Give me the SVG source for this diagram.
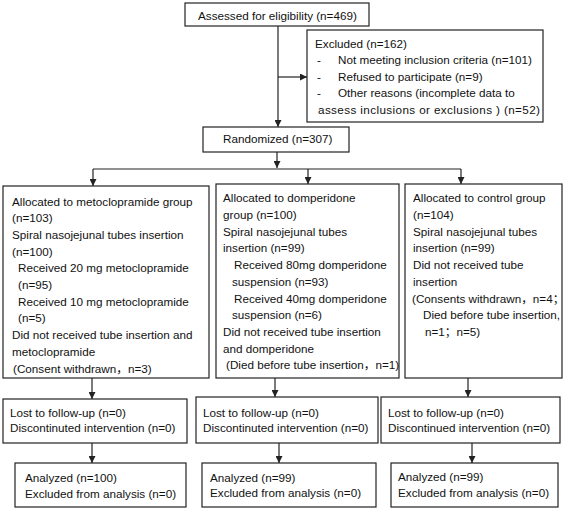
<svg xmlns="http://www.w3.org/2000/svg" width="567" height="510" viewBox="0 0 567 510">
<style>
.box{fill:#fff;stroke:#222;stroke-width:1.2}
text{font-family:"Liberation Sans","Noto Sans CJK SC",sans-serif;font-size:11.7px;fill:#111}
.ln{stroke:#222;stroke-width:1.2;fill:none}
</style>
<defs>
<marker id="ah" viewBox="0 0 8 8" refX="8" refY="4" markerWidth="7" markerHeight="7" orient="auto" markerUnits="userSpaceOnUse"><path d="M0,0 L8,4 L0,8 z" fill="#222"/></marker>
</defs>
<rect width="567" height="510" fill="#fff"/>
<g id="connectors">
<path class="ln" d="M278,26 V127" marker-end="url(#ah)"/>
<path class="ln" d="M278,77 H307" marker-end="url(#ah)"/>
<path class="ln" d="M277,152 V168" marker-end="url(#ah)"/>
<path class="ln" d="M93,169 H461"/>
<path class="ln" d="M93,169 V186" marker-end="url(#ah)"/>
<path class="ln" d="M308,169 V184" marker-end="url(#ah)"/>
<path class="ln" d="M461,169 V184" marker-end="url(#ah)"/>
<path class="ln" d="M92,378 V399" marker-end="url(#ah)"/>
<path class="ln" d="M92,443 V463" marker-end="url(#ah)"/>
<path class="ln" d="M275,378 V397" marker-end="url(#ah)"/>
<path class="ln" d="M279,443 V463" marker-end="url(#ah)"/>
<path class="ln" d="M468,378 V397" marker-end="url(#ah)"/>
<path class="ln" d="M472,443 V463" marker-end="url(#ah)"/>
</g>
<g id="assessed">
<rect class="box" x="185" y="3" width="184" height="23"/>
<text x="198" y="19.5">Assessed for eligibility (n=469)</text>
</g>
<g id="excluded">
<rect class="box" x="307" y="30" width="236" height="92"/>
<text x="315" y="47.5">Excluded (n=162)</text>
<text x="317" y="64">-</text><text x="338" y="64">Not meeting inclusion criteria (n=101)</text>
<text x="317" y="80.5">-</text><text x="338" y="80.5">Refused to participate (n=9)</text>
<text x="317" y="97">-</text><text x="338" y="97">Other reasons (incomplete data to</text>
<text x="318" y="114" textLength="222" lengthAdjust="spacing">assess inclusions or exclusions ) (n=52)</text>
</g>
<g id="randomized">
<rect class="box" x="203" y="127" width="146" height="25"/>
<text x="223" y="142.5">Randomized (n=307)</text>
</g>
<g id="alloc-meto">
<rect class="box" x="3" y="186" width="206" height="192"/>
<text x="12" y="205.5">Allocated to metoclopramide group</text>
<text x="12" y="222.2">(n=103)</text>
<text x="12" y="238.9">Spiral nasojejunal tubes insertion</text>
<text x="12" y="255.6">(n=100)</text>
<text x="18" y="272.3">Received 20 mg metoclopramide</text>
<text x="18" y="289">(n=95)</text>
<text x="18" y="305.7">Received 10 mg metoclopramide</text>
<text x="18" y="322.4">(n=5)</text>
<text x="12" y="339.1">Did not received tube insertion and</text>
<text x="12" y="355.8">metoclopramide</text>
<text x="13" y="372.5">(Consent withdrawn，n=3)</text>
</g>
<g id="alloc-domp">
<rect class="box" x="216" y="184" width="183" height="194"/>
<text x="223" y="202.3">Allocated to domperidone</text>
<text x="223" y="219">group (n=100)</text>
<text x="223" y="235.7">Spiral nasojejunal tubes</text>
<text x="223" y="252.4">insertion (n=99)</text>
<text x="234" y="269.1">Received 80mg domperidone</text>
<text x="232" y="285.8">suspension (n=93)</text>
<text x="234" y="302.5">Received 40mg domperidone</text>
<text x="232" y="319.2">suspension (n=6)</text>
<text x="223" y="335.9">Did not received tube insertion</text>
<text x="223" y="352.6">and domperidone</text>
<text x="226" y="369.3">(Died before tube insertion，n=1)</text>
</g>
<g id="alloc-ctrl">
<rect class="box" x="405" y="184" width="157" height="194"/>
<text x="413" y="202.3">Allocated to control group</text>
<text x="413" y="219">(n=104)</text>
<text x="413" y="235.7">Spiral nasojejunal tubes</text>
<text x="413" y="252.4">insertion (n=99)</text>
<text x="413" y="269.1">Did not received tube</text>
<text x="413" y="285.8">insertion</text>
<text x="412" y="302.5">(Consents withdrawn，n=4；</text>
<text x="423" y="319.2">Died before tube insertion,</text>
<text x="425" y="335.9">n=1；n=5)</text>
</g>
<g id="lost-meto">
<rect class="box" x="3" y="399" width="184" height="44"/>
<text x="10" y="417">Lost to follow-up (n=0)</text>
<text x="10" y="432">Discontinuted intervention (n=0)</text>
</g>
<g id="lost-domp">
<rect class="box" x="196" y="397" width="182" height="46"/>
<text x="203" y="416.5">Lost to follow-up (n=0)</text>
<text x="203" y="431.5">Discontinuted intervention (n=0)</text>
</g>
<g id="lost-ctrl">
<rect class="box" x="381" y="397" width="179" height="46"/>
<text x="388" y="416.5">Lost to follow-up (n=0)</text>
<text x="388" y="431.5">Discontinued intervention (n=0)</text>
</g>
<g id="an-meto">
<rect class="box" x="15" y="463" width="171" height="44"/>
<text x="25" y="482">Analyzed (n=100)</text>
<text x="25" y="497.5">Excluded from analysis (n=0)</text>
</g>
<g id="an-domp">
<rect class="box" x="202" y="463" width="174" height="44"/>
<text x="210" y="481.5">Analyzed (n=99)</text>
<text x="210" y="497">Excluded from analysis (n=0)</text>
</g>
<g id="an-ctrl">
<rect class="box" x="391" y="463" width="167" height="44"/>
<text x="398" y="481">Analyzed (n=99)</text>
<text x="398" y="496.5">Excluded from analysis (n=0)</text>
</g>
</svg>
